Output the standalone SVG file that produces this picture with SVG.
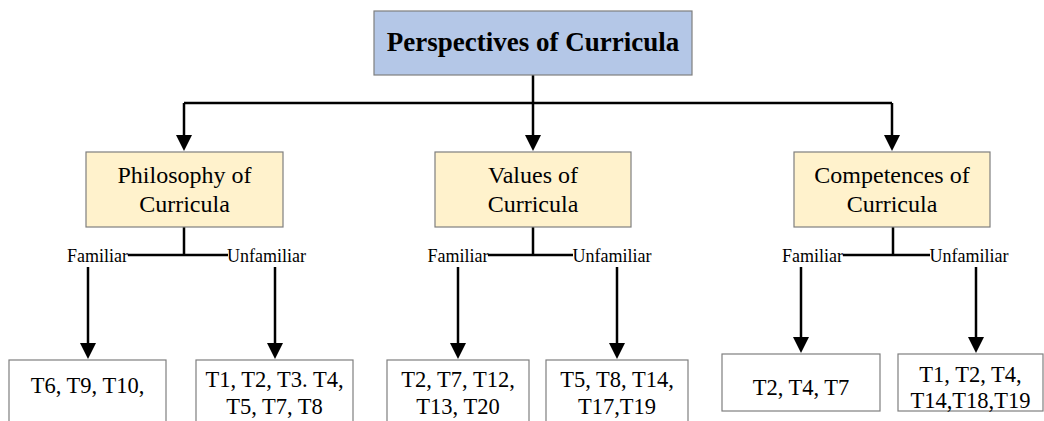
<svg xmlns="http://www.w3.org/2000/svg" width="1044" height="421" viewBox="0 0 1044 421">
<defs>
<style>
.box{stroke:#7f7f7f;stroke-width:1.2}
.root{fill:#b4c7e7}
.mid{fill:#fff2cc}
.leaf{fill:#ffffff}
.ln{fill:none;stroke:#000;stroke-width:2.5}
</style>
<marker id="arr" markerUnits="userSpaceOnUse" markerWidth="16" markerHeight="16" refX="0" refY="8" orient="auto" viewBox="0 0 16 16">
<path d="M0,0 L16,8 L0,16 z" fill="#000"/>
</marker>
</defs>
<rect width="1044" height="421" fill="#fff"/>

<g id="connectors">
<path class="ln" d="M184,103 H892"/>
<path class="ln" d="M533,75 V135" marker-end="url(#arr)"/>
<path class="ln" d="M184,103 V135" marker-end="url(#arr)"/>
<path class="ln" d="M892,103 V135" marker-end="url(#arr)"/>

<path class="ln" d="M184,227 V255 M128,255 H228"/>
<path class="ln" d="M88,267 V343" marker-end="url(#arr)"/>
<path class="ln" d="M275,267 V343" marker-end="url(#arr)"/>

<path class="ln" d="M533,227 V255 M488,255 H573"/>
<path class="ln" d="M458,267 V343" marker-end="url(#arr)"/>
<path class="ln" d="M617,267 V343" marker-end="url(#arr)"/>

<path class="ln" d="M893,227 V255 M843,255 H930"/>
<path class="ln" d="M801,267 V337" marker-end="url(#arr)"/>
<path class="ln" d="M976,267 V337" marker-end="url(#arr)"/>
</g>

<g id="labels" font-family="'Liberation Serif', serif" font-size="18" text-anchor="middle" fill="#000">
<text x="97.5" y="262">Familiar</text>
<text x="266.5" y="262">Unfamiliar</text>
<text x="458" y="262">Familiar</text>
<text x="612" y="262">Unfamiliar</text>
<text x="812.5" y="262">Familiar</text>
<text x="969" y="262">Unfamiliar</text>
</g>

<g font-family="'Liberation Serif', serif" text-anchor="middle" fill="#000">
<g id="root">
<rect class="box root" x="374" y="11" width="318" height="64"/>
<text x="533" y="51" font-size="27" font-weight="bold">Perspectives of Curricula</text>
</g>

<g id="philosophy" font-size="24">
<rect class="box mid" x="86" y="152" width="197" height="75"/>
<text x="184.5" y="183">Philosophy of</text>
<text x="184.5" y="212">Curricula</text>
</g>
<g id="values" font-size="24">
<rect class="box mid" x="435" y="152" width="196" height="75"/>
<text x="533" y="183">Values of</text>
<text x="533" y="212">Curricula</text>
</g>
<g id="competences" font-size="24">
<rect class="box mid" x="794" y="152" width="196" height="75"/>
<text x="892" y="183">Competences of</text>
<text x="892" y="212">Curricula</text>
</g>

<g id="phil-familiar" font-size="22.5">
<rect class="box leaf" x="9" y="360" width="157" height="70"/>
<text x="87.5" y="393">T6, T9, T10,</text>
</g>
<g id="phil-unfamiliar" font-size="22.5">
<rect class="box leaf" x="196" y="360" width="157" height="70"/>
<text x="274.5" y="387">T1, T2, T3. T4,</text>
<text x="274.5" y="414">T5, T7, T8</text>
</g>
<g id="val-familiar" font-size="22.5">
<rect class="box leaf" x="387" y="360" width="142" height="70"/>
<text x="458" y="387">T2, T7, T12,</text>
<text x="458" y="414">T13, T20</text>
</g>
<g id="val-unfamiliar" font-size="22.5">
<rect class="box leaf" x="546" y="360" width="142" height="70"/>
<text x="617" y="387">T5, T8, T14,</text>
<text x="617" y="414">T17,T19</text>
</g>
<g id="comp-familiar" font-size="22.5">
<rect class="box leaf" x="722" y="354" width="158" height="57"/>
<text x="801" y="395">T2, T4, T7</text>
</g>
<g id="comp-unfamiliar" font-size="22.5">
<rect class="box leaf" x="898" y="354" width="145" height="57"/>
<text x="970.5" y="382">T1, T2, T4,</text>
<text x="970.5" y="408">T14,T18,T19</text>
</g>
</g>
</svg>
